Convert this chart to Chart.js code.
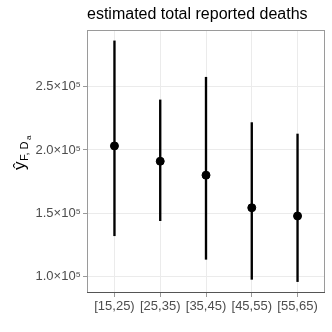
<!DOCTYPE html>
<html>
<head>
<meta charset="utf-8">
<script src="https://cdn.jsdelivr.net/npm/chart.js@4"></script>
<style>
  body { margin: 0; background: #fff; }
  #wrap { width: 332px; height: 332px; }
</style>
</head>
<body>
<div id="wrap"><canvas id="deathsChart" width="332" height="332"></canvas></div>
<script>
// age groups and estimates
const ageGroups = ["[15,25)", "[25,35)", "[35,45)", "[45,55)", "[55,65)"];
const estimate = [203200, 191100, 180100, 154400, 147900];
const lower = [132300, 144200, 113700, 97900, 96100];
const upper = [286100, 239500, 257400, 221600, 212600];
const yTicks = [100000, 150000, 200000, 250000];
const yTickLabels = ["1.0\u00d710\u2075", "1.5\u00d710\u2075", "2.0\u00d710\u2075", "2.5\u00d710\u2075"];
const titleText = "estimated total reported deaths";

const xs = ageGroups.map((g, i) => i + 1);
const FONT = "'Liberation Sans', Arial, sans-serif";

// title + y label + panel border
const decor = {
    id: "decor",
    afterDraw(chart) {
        const ctx = chart.ctx;
        const a = chart.chartArea;
        ctx.save();
        ctx.strokeStyle = "#9a9a9a";
        ctx.lineWidth = 1;
        ctx.strokeRect(a.left + 0.5, a.top + 0.5, a.right - a.left - 1, a.bottom - a.top - 1);
        ctx.strokeStyle = "#555";
        ctx.beginPath();
        ctx.moveTo(a.left, a.bottom - 0.5);
        ctx.lineTo(a.right, a.bottom - 0.5);
        ctx.stroke();

        ctx.fillStyle = "#000";
        ctx.font = "16px " + FONT;
        ctx.textBaseline = "alphabetic";
        ctx.textAlign = "left";
        ctx.fillText(titleText, a.left, 19);

        // y axis label: y-hat with subscript F, D_a
        ctx.translate(25, 170);
        ctx.rotate(-Math.PI / 2);
        ctx.font = "17px " + FONT;
        ctx.fillText("\u0177", 0, 0);
        ctx.font = "11px " + FONT;
        ctx.fillText("F, D", 9, 3);
        ctx.font = "8px " + FONT;
        ctx.fillText("a", 30, 6);
        ctx.restore();
    }
};

new Chart(document.getElementById("deathsChart"), {
    type: "bar",
    data: {
        datasets: [{
            type: "bar",
            data: xs.map((x, i) => ({ x: x, y: [lower[i], upper[i]] })),
            backgroundColor: "#000",
            borderWidth: 0,
            barThickness: 1.7,
            order: 2
        }, {
            type: "scatter",
            data: xs.map((x, i) => ({ x: x, y: estimate[i] })),
            backgroundColor: "#000",
            borderColor: "#000",
            pointRadius: 4,
            order: 1
        }]
    },
    options: {
        responsive: false,
        animation: false,
        events: [],
        layout: { padding: { top: 30, right: 7, left: 0, bottom: 0 } },
        plugins: {
            legend: { display: false },
            tooltip: { enabled: false }
        },
        scales: {
            x: {
                type: "linear",
                offset: false,
                min: 0.4,
                max: 5.6,
                afterBuildTicks: s => { s.ticks = xs.map(v => ({ value: v })); },
                afterFit: s => { s.height = 39; },
                ticks: {
                    callback: v => ageGroups[v - 1],
                    color: "#4d4d4d",
                    font: { size: 13, family: FONT },
                    padding: 2,
                    maxRotation: 0,
                    autoSkip: false
                },
                grid: { color: "#ebebeb", tickColor: "#9a9a9a", tickLength: 4, offset: false },
                border: { display: false }
            },
            y: {
                min: 87100,
                max: 294700,
                afterBuildTicks: s => { s.ticks = yTicks.map(v => ({ value: v })); },
                afterFit: s => { s.width = 87; },
                ticks: {
                    callback: v => yTickLabels[yTicks.indexOf(v)],
                    color: "#4d4d4d",
                    font: { size: 13, family: FONT },
                    padding: 2
                },
                grid: { color: "#ebebeb", tickColor: "#9a9a9a", tickLength: 4 },
                border: { display: false }
            }
        }
    },
    plugins: [decor]
});
</script>
</body>
</html>
